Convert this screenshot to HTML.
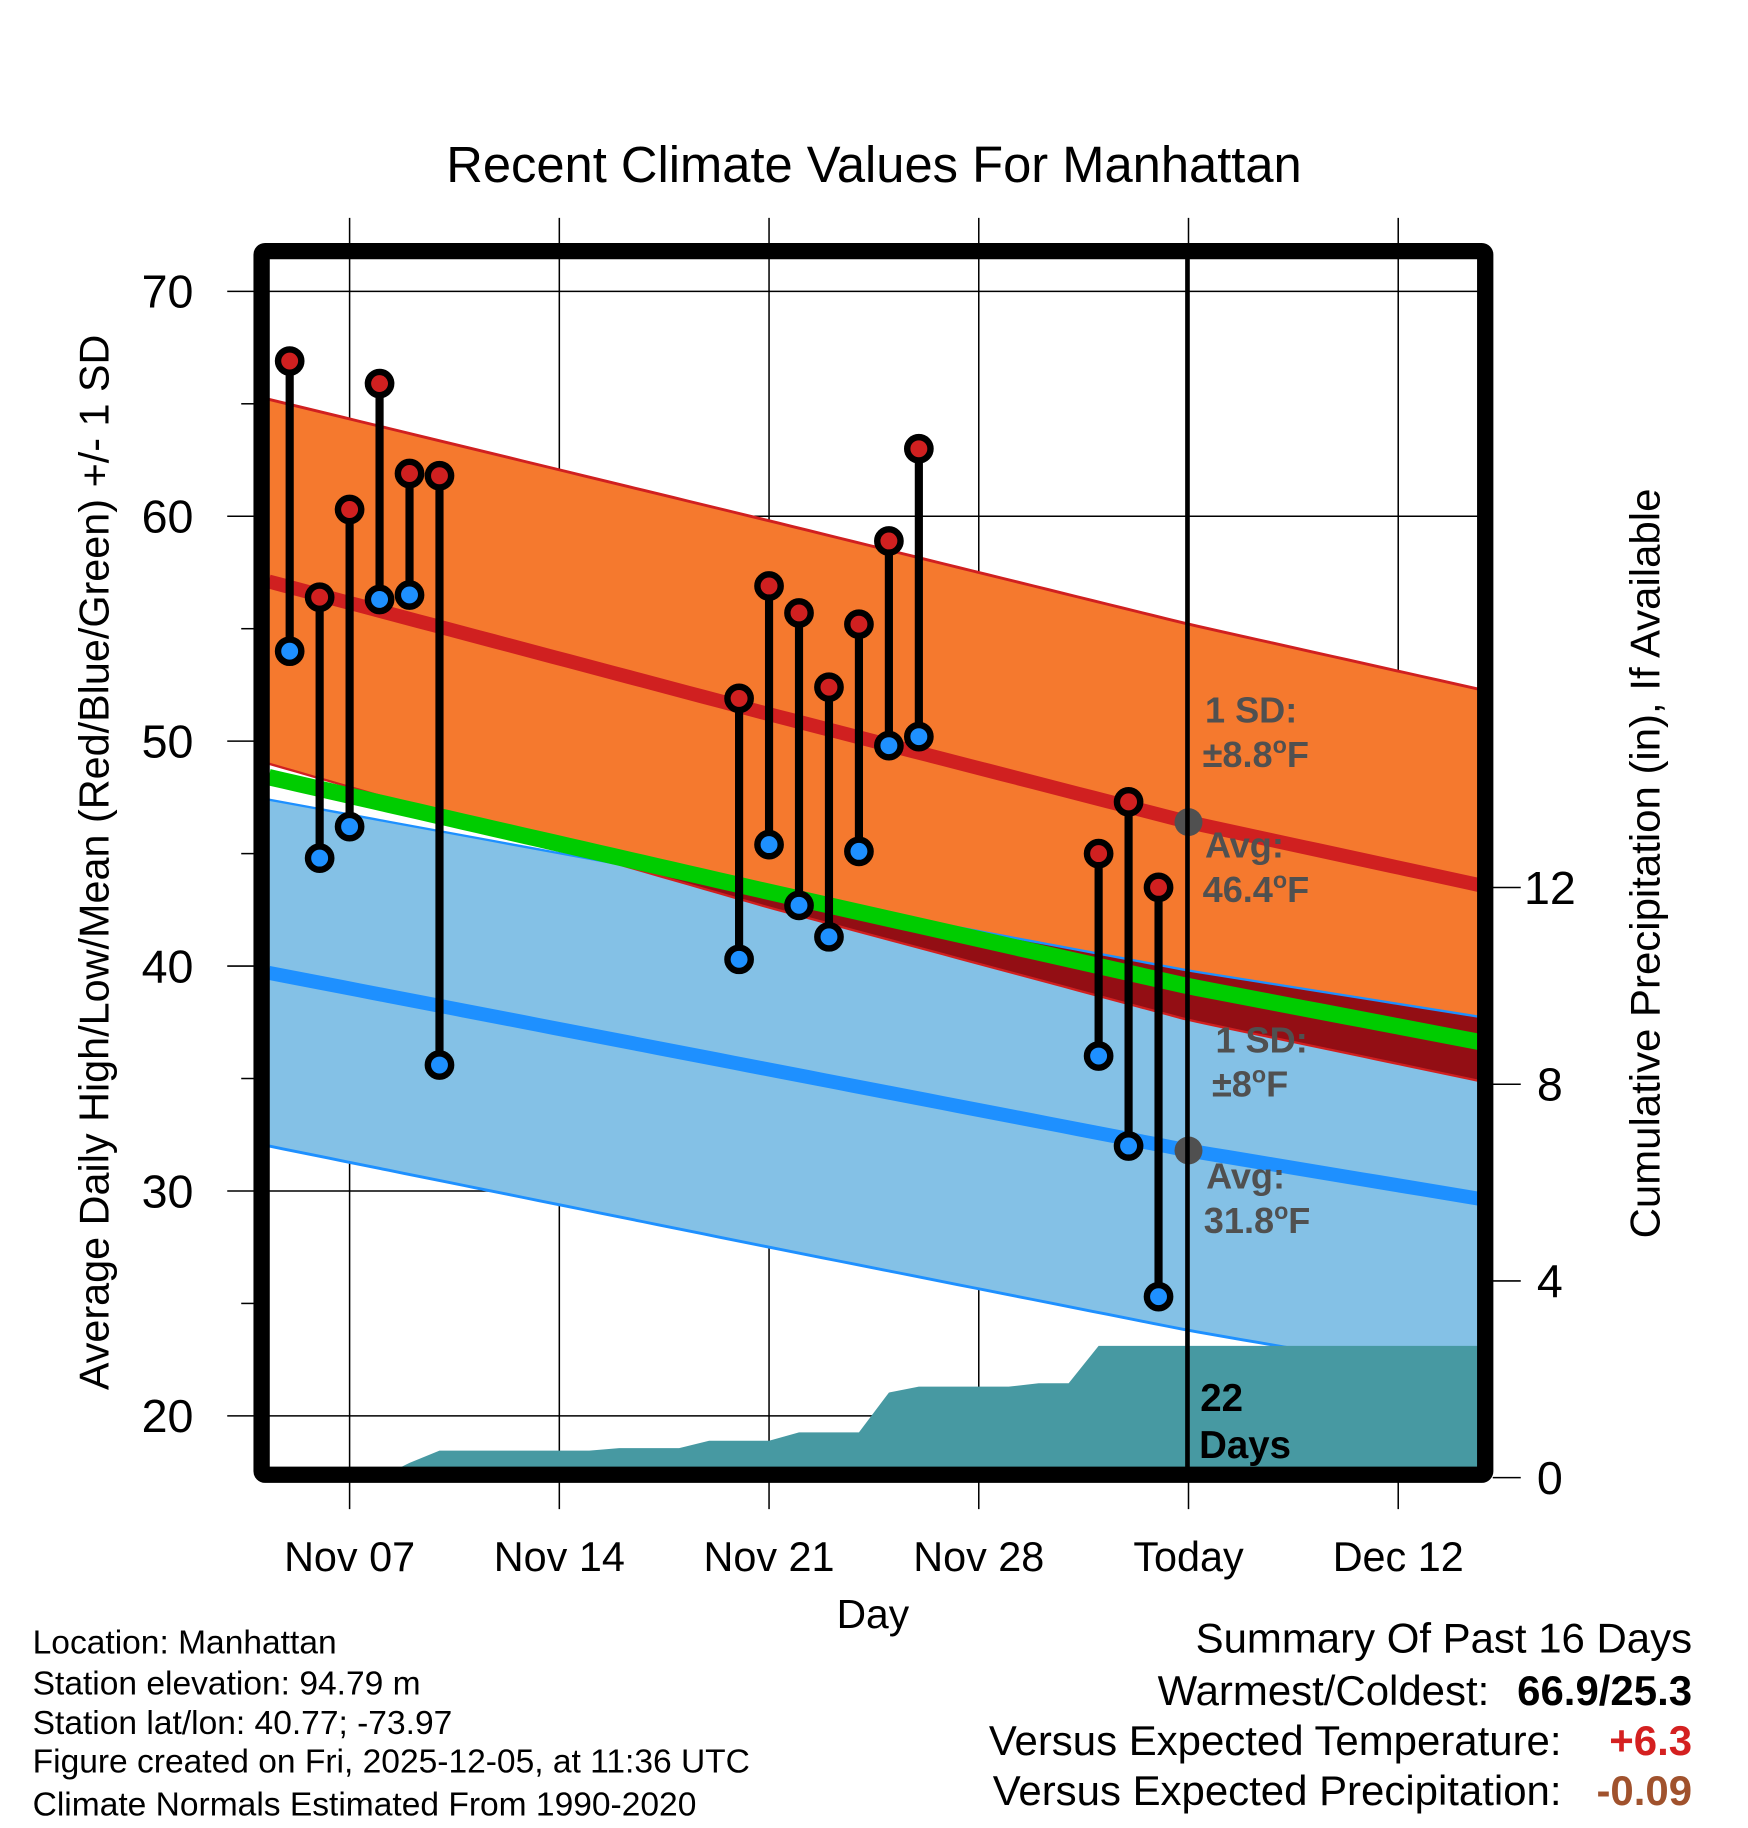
<!DOCTYPE html>
<html><head><meta charset="utf-8"><style>
html,body{margin:0;padding:0;background:#fff;}
svg{display:block;font-family:"Liberation Sans",Arial,sans-serif;}
</style></head><body>
<svg id="chart" width="1748" height="1828" viewBox="0 0 1500 1568.65" preserveAspectRatio="none" xmlns="http://www.w3.org/2000/svg">
<defs><clipPath id="plotclip"><rect x="231" y="222" width="1037" height="1038"/></clipPath></defs>
<rect x="0" y="0" width="1500" height="1569" fill="#fff"/>
<text x="750" y="156" font-size="43.5" text-anchor="middle">Recent Climate Values For Manhattan</text>
<g id="grid"></g>
<g id="bands" clip-path="url(#plotclip)"></g>
<g id="precip" clip-path="url(#plotclip)"></g>
<g id="marks"></g>
<g id="annot">
 <line x1="1019" y1="222" x2="1019" y2="1260" stroke="#000" stroke-width="4"/>
 <g fill="#505050" font-weight="bold" font-size="31">
  <text x="1034" y="620">1 SD:</text>
  <text x="1032" y="658">±8.8<tspan font-size="20" dy="-12">o</tspan><tspan dy="12">F</tspan></text>
  <text x="1034" y="736">Avg:</text>
  <text x="1032" y="774">46.4<tspan font-size="20" dy="-12">o</tspan><tspan dy="12">F</tspan></text>
  <text x="1043" y="903">1 SD:</text>
  <text x="1040" y="941">±8<tspan font-size="20" dy="-12">o</tspan><tspan dy="12">F</tspan></text>
  <text x="1035" y="1020">Avg:</text>
  <text x="1033" y="1058">31.8<tspan font-size="20" dy="-12">o</tspan><tspan dy="12">F</tspan></text>
 </g>
 <text x="1030" y="1211" font-size="33" font-weight="bold">22</text>
 <text x="1029" y="1251" font-size="33" font-weight="bold">Days</text>
</g>
<rect x="224.5" y="215.5" width="1050" height="1050" fill="none" stroke="#000" stroke-width="14" rx="3"/>
<g id="axes"></g>
<text x="749" y="1397" font-size="35" text-anchor="middle">Day</text>
<text transform="translate(93,740) rotate(-90)" font-size="35.5" text-anchor="middle">Average Daily High/Low/Mean (Red/Blue/Green) +/- 1 SD</text>
<text transform="translate(1424,741) rotate(-90)" font-size="36" text-anchor="middle">Cumulative Precipitation (in), If Available</text>
<g font-size="28.8">
 <text x="28" y="1419">Location: Manhattan</text>
 <text x="28" y="1454">Station elevation: 94.79 m</text>
 <text x="28" y="1488">Station lat/lon: 40.77; -73.97</text>
 <text x="28" y="1521">Figure created on Fri, 2025-12-05, at 11:36 UTC</text>
 <text x="28" y="1558">Climate Normals Estimated From 1990-2020</text>
</g>
<g font-size="36" text-anchor="end">
 <text x="1452" y="1418">Summary Of Past 16 Days</text>
 <text x="1278" y="1463">Warmest/Coldest:</text>
 <text x="1452" y="1463" font-weight="bold">66.9/25.3</text>
 <text x="1340" y="1506">Versus Expected Temperature:</text>
 <text x="1452" y="1506" font-weight="bold" fill="#d42020">+6.3</text>
 <text x="1340" y="1549">Versus Expected Precipitation:</text>
 <text x="1452" y="1549" font-weight="bold" fill="#a0522d">-0.09</text>
</g>
</svg>
<script>
// day index relative to Nov 07
const obsDays = [-2,-1,0,1,2,3,13,14,15,16,17,18,19,25,26,27];
const obsHigh = [66.9,56.4,60.3,65.9,61.9,61.8,51.9,56.9,55.7,52.4,55.2,58.9,63.0,45.0,47.3,43.5];
const obsLow  = [54.0,44.8,46.2,56.3,56.5,35.6,40.3,45.4,42.7,41.3,45.1,49.8,50.2,36.0,32.0,25.3];
const normDays = [-2.7,14,28,38.4];
const normHigh = [57.1,51.2,46.4,43.4];
const normLow  = [39.7,35.4,31.8,29.5];
const sdHigh   = [8.1,8.6,8.8,8.7];
const sdLow    = [7.7,7.9,8.0,8.1];
const precipDays = [-2,-1,0,1,2,3,8,9,11,12,14,15,17,18,19,22,23,24,25,38.4];
const precipCum  = [0,0,0,0,0.3,0.55,0.55,0.6,0.6,0.75,0.75,0.92,0.92,1.73,1.85,1.85,1.92,1.92,2.68,2.68];
const yTicks = [20,30,40,50,60,70];
const y2Ticks = [0,4,8,12];
const xTickDays = [0,7,14,21,28,35];
const xTickLabels = ["Nov 07","Nov 14","Nov 21","Nov 28","Today","Dec 12"];

const NS="http://www.w3.org/2000/svg";
const X = d => 300 + d*25.71;
const Y = t => 250 + (70 - t)*19.3;
const Y2 = p => 1268 - p*42.2;
function mk(tag, attrs, parent){const e=document.createElementNS(NS,tag);for(const k in attrs)e.setAttribute(k,attrs[k]);parent.appendChild(e);return e;}
function interp(arr, d){
  for(let i=0;i<normDays.length-1;i++){if(d<=normDays[i+1]||i===normDays.length-2){const t=(d-normDays[i])/(normDays[i+1]-normDays[i]);return arr[i]+t*(arr[i+1]-arr[i]);}}
}
const samp=[];for(let d=normDays[0];d<=normDays[3]+0.001;d+=0.5)samp.push(d);
function series(fn){return samp.map(d=>[X(d),Y(fn(d))]);}
function band(top,bot){return top.map(p=>p.join(',')).concat(bot.slice().reverse().map(p=>p.join(','))).join(' ');}
function line(pts){return pts.map(p=>p.join(',')).join(' ');}

const hi=d=>interp(normHigh,d), lo=d=>interp(normLow,d);
const hiU=d=>hi(d)+interp(sdHigh,d), hiL=d=>hi(d)-interp(sdHigh,d);
const loU=d=>lo(d)+interp(sdLow,d), loL=d=>lo(d)-interp(sdLow,d);

const grid=document.getElementById('grid');
yTicks.forEach(t=>{const l=mk('line',{x1:195,x2:1268,y1:Y(t),y2:Y(t),stroke:'#000','stroke-width':1.3},grid);
});
xTickDays.forEach(d=>{const l=mk('line',{x1:X(d),x2:X(d),y1:187,y2:1295,stroke:'#000','stroke-width':1.3},grid);
});

const bands=document.getElementById('bands');
let e;
e=mk('polygon',{points:band(series(loU),series(loL)),fill:'#84c1e6'},bands);

e=mk('polyline',{points:line(series(loL)),fill:'none',stroke:'#1e90ff','stroke-width':2.5},bands);

e=mk('polygon',{points:band(series(hiU),series(hiL)),fill:'#f5792e'},bands);

const ovTop=series(d=>Math.min(loU(d),hiU(d))), ovBot=series(d=>Math.min(hiL(d),loU(d)));
e=mk('polygon',{points:band(ovTop,ovBot),fill:'#930e14'},bands);

e=mk('polyline',{points:line(series(hiU)),fill:'none',stroke:'#d02020','stroke-width':2.5},bands);

e=mk('polyline',{points:line(series(hiL)),fill:'none',stroke:'#d02020','stroke-width':2},bands);

e=mk('polyline',{points:line(series(loU)),fill:'none',stroke:'#1e90ff','stroke-width':2},bands);

e=mk('polyline',{points:line(series(d=>(hi(d)+lo(d))/2)),fill:'none',stroke:'#00cc00','stroke-width':14},bands);

e=mk('polyline',{points:line(series(hi)),fill:'none',stroke:'#d02020','stroke-width':12},bands);

e=mk('polyline',{points:line(series(lo)),fill:'none',stroke:'#1e90ff','stroke-width':12},bands);


const pr=document.getElementById('precip');
const pp=precipDays.map((d,i)=>[X(d),Y2(precipCum[i])]);
pp.push([X(precipDays[precipDays.length-1]),1268]);pp.push([X(precipDays[0]),1268]);
e=mk('polygon',{points:line(pp),fill:'#4799a2'},pr);


const marks=document.getElementById('marks');
obsDays.forEach((d,i)=>{
  const x=X(d);
  e=mk('line',{x1:x,x2:x,y1:Y(obsHigh[i]),y2:Y(obsLow[i]),stroke:'#000','stroke-width':7},marks);
  
  e=mk('circle',{cx:x,cy:Y(obsHigh[i]),r:10,fill:'#d02020',stroke:'#000','stroke-width':5.5},marks);
  
  e=mk('circle',{cx:x,cy:Y(obsLow[i]),r:10,fill:'#1e90ff',stroke:'#000','stroke-width':5.5},marks);
  
});
e=mk('circle',{cx:X(28),cy:Y(hi(28)),r:12,fill:'#505050'},marks);

e=mk('circle',{cx:X(28),cy:Y(lo(28)),r:12,fill:'#505050'},marks);


const axes=document.getElementById('axes');
yTicks.forEach(t=>{
  e=mk('text',{x:166,y:Y(t)+14,'font-size':40,'text-anchor':'end'},axes);e.textContent=t;
  
});
[25,35,45,55,65].forEach(t=>{e=mk('line',{x1:207,x2:218,y1:Y(t),y2:Y(t),stroke:'#000','stroke-width':1.3},axes);
  });
y2Ticks.forEach(p=>{
  e=mk('line',{x1:1281,x2:1305,y1:Y2(p),y2:Y2(p),stroke:'#000','stroke-width':1.3},axes);
  
  e=mk('text',{x:1330,y:Y2(p)+14,'font-size':40,'text-anchor':'middle'},axes);e.textContent=p;
  
});
xTickDays.forEach((d,i)=>{
  e=mk('text',{x:X(d),y:1348,'font-size':35.5,'text-anchor':'middle'},axes);e.textContent=xTickLabels[i];
  
});
</script>
</body></html>
